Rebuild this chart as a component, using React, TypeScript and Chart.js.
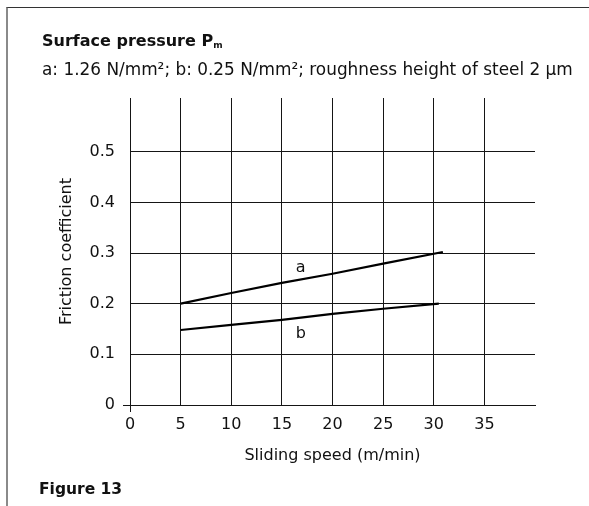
import React, { useEffect, useRef } from "react";
import { Chart, registerables } from "chart.js";

Chart.register(...registerables);

// ---- data ----
const speedA = [5, 10, 15, 20, 25, 30.9];
const frictionA = [0.2, 0.221, 0.241, 0.259, 0.279, 0.302];
const speedB = [5, 10, 15, 20, 25, 30.5];
const frictionB = [0.148, 0.158, 0.168, 0.18, 0.19, 0.2];
const xTicks = [0, 5, 10, 15, 20, 25, 30, 35];
const yTicks = [0, 0.1, 0.2, 0.3, 0.4, 0.5];
const curveNames = ["a", "b"];
const curveLabelX = [16.86, 16.86];
const curveLabelY = [0.262, 0.132];

const FONT = "'DejaVu Sans', sans-serif";
const INK = "#111";
const GRID = "#151515";

const curveLabels = {
  id: "curveLabels",
  afterDatasetsDraw(chart: any) {
    const { ctx, scales } = chart;
    ctx.save();
    ctx.font = `16px ${FONT}`;
    ctx.fillStyle = INK;
    ctx.textAlign = "center";
    ctx.textBaseline = "alphabetic";
    curveNames.forEach((n, i) => {
      ctx.fillText(n, scales.x.getPixelForValue(curveLabelX[i]), scales.y.getPixelForValue(curveLabelY[i]));
    });
    ctx.restore();
  },
};

export default function App() {
  const ref = useRef<HTMLCanvasElement | null>(null);

  useEffect(() => {
    if (!ref.current) return;
    const chart = new Chart(ref.current, {
      type: "line",
      data: {
        datasets: [
          {
            data: speedA.map((x, i) => ({ x, y: frictionA[i] })),
            borderColor: "#000",
            borderWidth: 2.2,
            pointRadius: 0,
            tension: 0,
            fill: false,
          },
          {
            data: speedB.map((x, i) => ({ x, y: frictionB[i] })),
            borderColor: "#000",
            borderWidth: 2.2,
            pointRadius: 0,
            tension: 0,
            fill: false,
          },
        ],
      },
      options: {
        animation: false,
        responsive: false,
        maintainAspectRatio: false,
        layout: { padding: { left: 0, top: 98, right: 54, bottom: 0 } },
        plugins: { legend: { display: false }, tooltip: { enabled: false }, title: { display: false } },
        scales: {
          x: {
            type: "linear",
            min: 0,
            max: 40,
            afterBuildTicks: (s: any) => {
              s.ticks = xTicks.map((v) => ({ value: v }));
            },
            afterFit: (s: any) => {
              s.height = 101;
            },
            grid: {
              color: GRID,
              lineWidth: 1,
              tickLength: 7,
              tickColor: (c: any) => (c.tick && c.tick.value === 0 ? GRID : "rgba(0,0,0,0)"),
            },
            border: { display: true, color: GRID, width: 1 },
            ticks: {
              color: INK,
              font: { family: FONT, size: 16 },
              padding: 3,
              maxRotation: 0,
              autoSkip: false,
              callback: (v: any) => String(v),
            },
            title: {
              display: true,
              text: "Sliding speed (m/min)",
              color: INK,
              font: { family: FONT, size: 16 },
              padding: { top: 0, bottom: 41 },
            },
          },
          y: {
            type: "linear",
            min: 0,
            max: 0.606,
            afterBuildTicks: (s: any) => {
              s.ticks = yTicks.map((v) => ({ value: v }));
            },
            afterFit: (s: any) => {
              s.width = 130;
            },
            grid: {
              color: GRID,
              lineWidth: 1,
              tickLength: 7,
              tickColor: (c: any) => (c.tick && c.tick.value === 0 ? GRID : "rgba(0,0,0,0)"),
            },
            border: { display: true, color: GRID, width: 1 },
            ticks: {
              color: INK,
              font: { family: FONT, size: 16 },
              padding: 8,
              autoSkip: false,
              callback: (v: any) => String(v),
            },
            title: {
              display: true,
              text: "Friction coefficient",
              color: INK,
              font: { family: FONT, size: 16 },
              padding: { top: 57, bottom: 0 },
            },
          },
        },
      },
      plugins: [curveLabels],
    });
    return () => chart.destroy();
  }, []);

  const textBase: React.CSSProperties = {
    position: "absolute",
    whiteSpace: "nowrap",
    fontFamily: FONT,
    color: INK,
    lineHeight: 1,
    margin: 0,
  };

  return (
    <div style={{ position: "absolute", left: 0, top: 0, width: 589, height: 506, overflow: "hidden", background: "#fff" }}>
      <div
        style={{
          position: "absolute",
          left: 6,
          top: 7,
          width: 600,
          height: 520,
          borderTop: "1px solid #333",
          borderLeft: "2px solid #8a8a8a",
        }}
      />
      <canvas ref={ref} width={589} height={506} style={{ position: "absolute", left: 0, top: 0, width: 589, height: 506 }} />
      <div style={{ ...textBase, left: 42, top: 33, fontSize: 16, fontWeight: 700 }}>
        Surface pressure P
        <span style={{ fontSize: 9, position: "relative", top: 2, lineHeight: 0 }}>m</span>
      </div>
      <div style={{ ...textBase, left: 42, top: 61, fontSize: 16.9 }}>
        a: 1.26 N/mm²; b: 0.25 N/mm²; roughness height of steel 2 µm
      </div>
      <div style={{ ...textBase, left: 39, top: 482, fontSize: 15.5, fontWeight: 700 }}>Figure 13</div>
    </div>
  );
}
